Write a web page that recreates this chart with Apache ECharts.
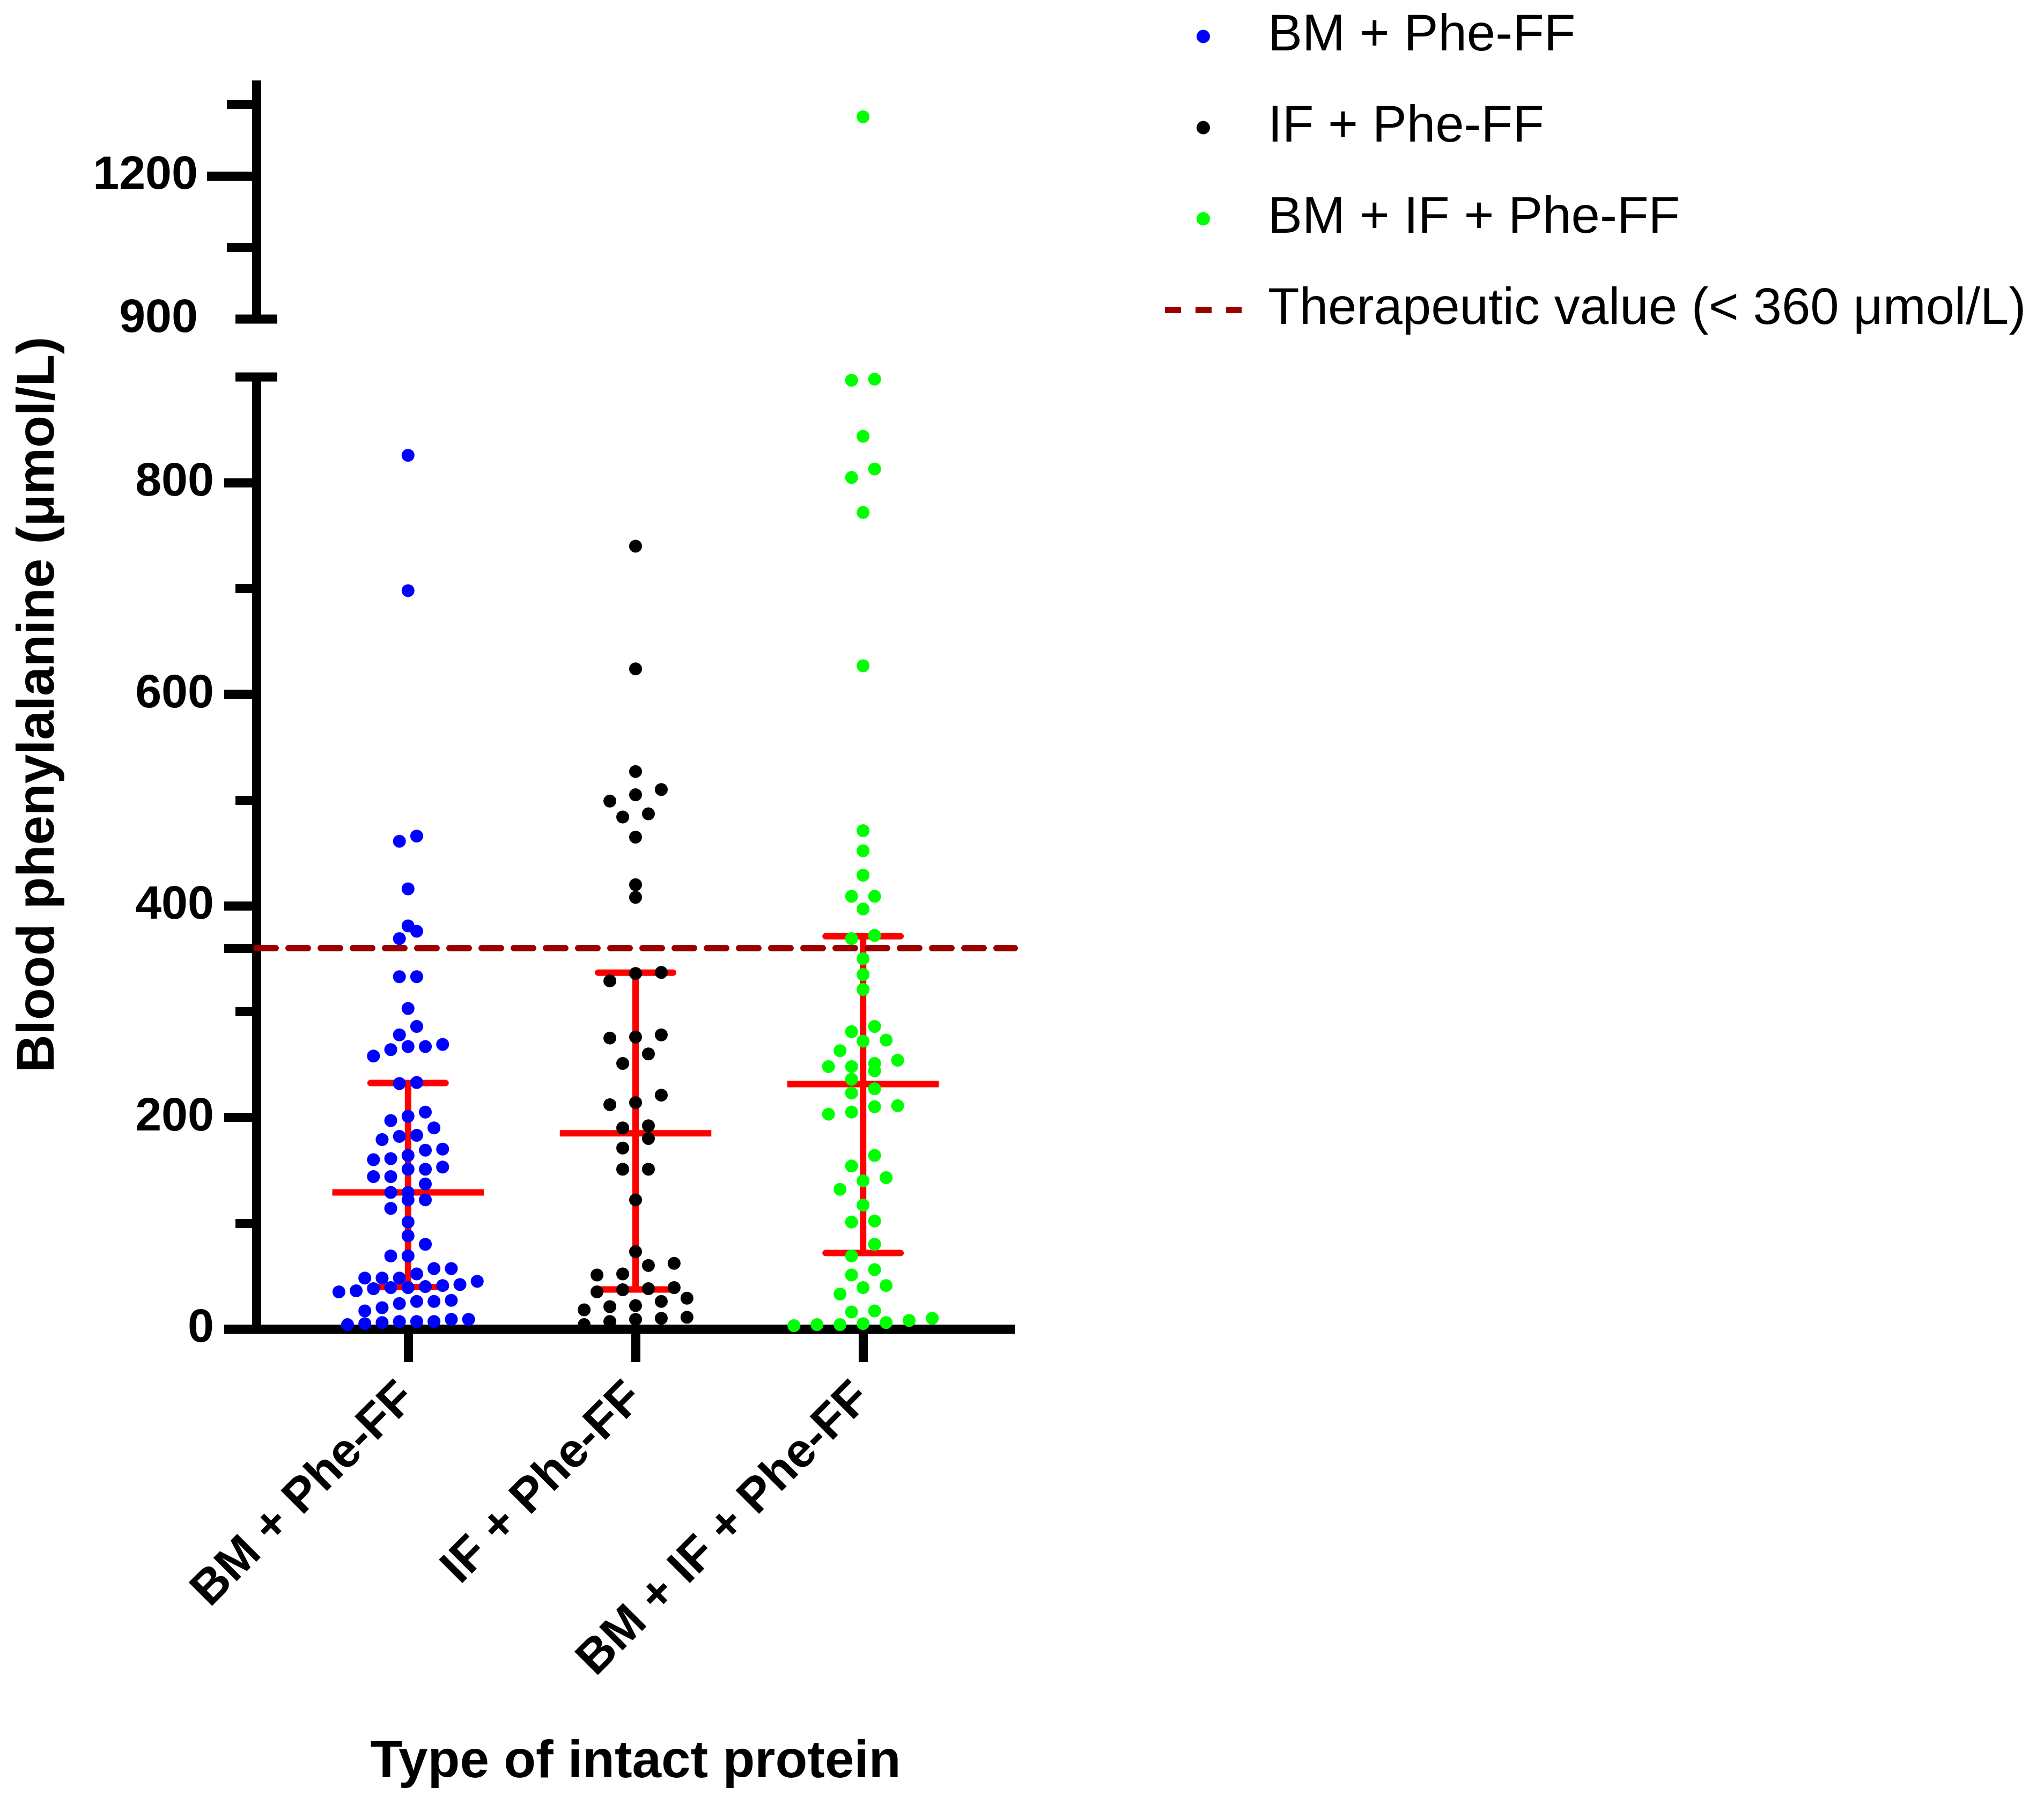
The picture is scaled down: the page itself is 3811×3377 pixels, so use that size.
<!DOCTYPE html>
<html><head><meta charset="utf-8">
<script src="https://cdn.jsdelivr.net/npm/echarts@6/dist/echarts.min.js"></script>
<style>html,body{margin:0;padding:0;background:#fff}#c{width:3811px;height:3377px}</style>
</head><body><div id="c"></div>
<script>
// ---------------- data ----------------
const categories = ['BM + Phe-FF', 'IF + Phe-FF', 'BM + IF + Phe-FF'];
const bmValues = [826, 698, 466, 461, 416, 381, 376, 369, 333, 333, 303, 286, 278, 269, 267, 267, 264, 258, 233, 232,
  205, 201, 197, 190, 183, 182, 179, 170, 169, 164, 161, 160, 153, 151, 151, 144, 144, 137, 129, 129,
  122, 122, 114, 101, 88, 80, 69, 69, 57, 57, 52, 48, 48, 48, 45, 42, 41, 40, 39, 39,
  38, 36, 35, 27, 26, 26, 24, 20, 17, 9, 9, 7, 7, 6, 7, 5, 4];
const ifValues = [740, 624, 527, 510, 505, 499, 487, 484, 465, 420, 408, 337, 336, 329, 278, 276, 275, 260, 251, 221,
  214, 212, 192, 190, 180, 171, 151, 151, 122, 73, 62, 60, 52, 51, 39, 38, 37, 35, 29, 26,
  22, 21, 18, 11, 10, 9, 7, 4];
const bmIfValues = [1324, 898, 897, 844, 813, 805, 772, 627, 471, 452, 429, 409, 409, 397, 372, 369, 350, 335, 321, 286,
  281, 273, 272, 263, 254, 251, 248, 248, 244, 236, 227, 223, 211, 210, 205, 203, 164, 154, 143, 140,
  132, 117, 102, 101, 80, 69, 56, 51, 41, 39, 33, 17, 16, 10, 8, 6, 5, 4, 4, 3];
const thresholdValue = 360;
const thresholdName = 'Therapeutic value (< 360 \u03bcmol/L)';
const yLabelsLow = [0, 200, 400, 600, 800];
const yMinorLow = [100, 300, 500, 700];
const yLabelsHigh = [900, 1200];
const yMajorHigh = [1200];
const yMinorHigh = [1050, 1350];
const breakValue = 900;
const yAxisTitle = 'Blood phenylalanine (\u03bcmol/L)';
const xAxisTitle = 'Type of intact protein';

// ---------------- styling / layout ----------------
const groups = [bmValues, ifValues, bmIfValues];
const colors = ['#0000FF', '#000000', '#00FF00'];
const XMIN = 1 / 3, XMAX = 11 / 3;
const FONT = "'Liberation Sans', Arial, sans-serif";
const AX_W = 17;

// GraphPad-style quartiles ((n+1)p method)
function quartiles(arr) {
  const s = [...arr].sort((a, b) => a - b), n = s.length;
  const q = p => {
    const pos = p * (n + 1);
    const lo = Math.min(Math.max(Math.floor(pos), 1), n), hi = Math.min(Math.max(Math.ceil(pos), 1), n);
    const f = pos - Math.floor(pos);
    return s[lo - 1] + (s[hi - 1] - s[lo - 1]) * f;
  };
  return { q1: q(0.25), med: q(0.5), q3: q(0.75) };
}
const stats = groups.map(quartiles);

// simple row-based beeswarm layout
function swarm(values, center) {
  const BIN = 12, MAX_HALF = 0.304, DEF = 0.113;
  const idx = values.map((v, i) => i).sort((a, b) => values[a] - values[b]);
  const rows = []; let cur = [], start = null;
  idx.forEach(i => {
    const v = values[i];
    if (start === null || v - start >= BIN) { if (cur.length) rows.push(cur); cur = [i]; start = v; }
    else cur.push(i);
  });
  if (cur.length) rows.push(cur);
  const maxN = Math.max(...rows.map(r => r.length));
  const sp = maxN > 1 ? Math.min(DEF, 2 * MAX_HALF / (maxN - 1)) : DEF;
  const xs = new Array(values.length);
  rows.forEach(r => {
    r.forEach((i, k) => { xs[i] = center + (k - (r.length - 1) / 2) * sp; });
  });
  return values.map((v, i) => [xs[i], v]);
}

const layouts = groups.map((g, i) => swarm(g, i + 1));

const series = [];
// red median + IQR
series.push({
  type: 'custom', xAxisIndex: 1, yAxisIndex: 1, z: 2, silent: true, clip: false,
  data: categories.map((c, i) => [i]),
  renderItem: function (params, api) {
    const i = api.value(0), x = i + 1, s = stats[i];
    const pm = api.coord([x, s.med]), p1 = api.coord([x, s.q1]), p3 = api.coord([x, s.q3]);
    const ml = api.coord([x - 0.333, s.med])[0], mr = api.coord([x + 0.333, s.med])[0];
    const cl = api.coord([x - 0.165, s.med])[0], cr = api.coord([x + 0.165, s.med])[0];
    const red = '#FF0000', w = 12;
    return { type: 'group', children: [
      { type: 'line', shape: { x1: p1[0], y1: p1[1], x2: p3[0], y2: p3[1] }, style: { stroke: red, lineWidth: w } },
      { type: 'line', shape: { x1: ml, y1: pm[1], x2: mr, y2: pm[1] }, style: { stroke: red, lineWidth: w } },
      { type: 'line', shape: { x1: cl, y1: p3[1], x2: cr, y2: p3[1] }, style: { stroke: red, lineWidth: w, lineCap: 'round' } },
      { type: 'line', shape: { x1: cl, y1: p1[1], x2: cr, y2: p1[1] }, style: { stroke: red, lineWidth: w, lineCap: 'round' } }
    ] };
  }
});
// dots
layouts.forEach((pts, i) => {
  const low = pts.filter(p => p[1] <= breakValue), high = pts.filter(p => p[1] > breakValue);
  series.push({ type: 'scatter', name: categories[i], xAxisIndex: 1, yAxisIndex: 1, z: 3,
    symbol: 'circle', symbolSize: 24, itemStyle: { color: colors[i], opacity: 1 }, data: low, clip: false });
  if (high.length) series.push({ type: 'scatter', name: categories[i], xAxisIndex: 0, yAxisIndex: 0, z: 3,
    symbol: 'circle', symbolSize: 24, itemStyle: { color: colors[i], opacity: 1 }, data: high, clip: false });
});
// axis break caps
[[0, 0], [1, 1]].forEach(([xi, yi]) => {
  series.push({ type: 'custom', xAxisIndex: xi, yAxisIndex: yi, z: 1, silent: true, clip: false,
    data: [[breakValue]],
    renderItem: function (params, api) {
      const p = api.coord([XMIN, api.value(0)]);
      return { type: 'line', shape: { x1: p[0] - 39, y1: p[1], x2: p[0] + 39, y2: p[1] },
        style: { stroke: '#000', lineWidth: AX_W } };
    } });
});
// therapeutic reference line
series.push({
  type: 'line', name: thresholdName, xAxisIndex: 1, yAxisIndex: 1, z: 4, data: [], symbol: 'none',
  itemStyle: { color: 'rgba(0,0,0,0)', borderColor: 'rgba(0,0,0,0)' },
  lineStyle: { color: '#990000', width: 12, type: [30, 27], cap: 'butt' },
  markLine: { silent: true, symbol: 'none', label: { show: false }, animation: false,
    lineStyle: { color: '#990000', width: 12, type: [36, 24], cap: 'round' },
    data: [{ yAxis: thresholdValue }] }
});

const hiddenX = gi => ({ gridIndex: gi, type: 'value', min: XMIN, max: XMAX, show: false });
const axisLineStyle = { show: true, onZero: false, lineStyle: { color: '#000', width: AX_W, cap: 'butt' } };
const tickLabel = { fontFamily: FONT, fontWeight: 'bold', fontSize: 88, color: '#000', formatter: v => String(v) };

const majorLow = [...yLabelsLow, thresholdValue].sort((a, b) => a - b);

const option = {
  animation: false,
  backgroundColor: '#ffffff',
  grid: [
    { left: 478, top: 150, width: 1414, height: 445, outerBoundsMode: 'none', containLabel: false },
    { left: 478, top: 703, width: 1414, height: 1775, outerBoundsMode: 'none', containLabel: false },
    { left: 478, top: 150, width: 1414, height: 445, outerBoundsMode: 'none', containLabel: false },
    { left: 478, top: 703, width: 1414, height: 1775, outerBoundsMode: 'none', containLabel: false }
  ],
  xAxis: [
    hiddenX(0),
    { gridIndex: 1, type: 'value', min: XMIN, max: XMAX, position: 'bottom',
      axisLine: axisLineStyle,
      axisTick: { show: true, customValues: [1, 2, 3], length: 62, lineStyle: { color: '#000', width: AX_W } },
      axisLabel: { show: true, customValues: [1, 2, 3], rotate: 45, margin: 116,
        formatter: v => categories[Math.round(v) - 1] || '',
        fontFamily: FONT, fontWeight: 'bold', fontSize: 90, color: '#000' },
      splitLine: { show: false } },
    hiddenX(2),
    hiddenX(3)
  ],
  yAxis: [
    { gridIndex: 0, type: 'value', min: breakValue, max: 1400, position: 'left',
      axisLine: axisLineStyle,
      axisTick: { show: true, customValues: yMajorHigh, length: 92, lineStyle: { color: '#000', width: AX_W } },
      axisLabel: Object.assign({ show: true, customValues: yLabelsHigh, margin: 109 }, tickLabel),
      splitLine: { show: false } },
    { gridIndex: 1, type: 'value', min: 0, max: breakValue, position: 'left',
      axisLine: axisLineStyle,
      axisTick: { show: true, customValues: majorLow, length: 60, lineStyle: { color: '#000', width: AX_W } },
      axisLabel: Object.assign({ show: true, customValues: yLabelsLow, margin: 79 }, tickLabel),
      splitLine: { show: false } },
    { gridIndex: 2, type: 'value', min: breakValue, max: 1400, position: 'left',
      axisLine: { show: false },
      axisTick: { show: true, customValues: yMinorHigh, length: 55, lineStyle: { color: '#000', width: AX_W } },
      axisLabel: { show: false }, splitLine: { show: false } },
    { gridIndex: 3, type: 'value', min: 0, max: breakValue, position: 'left',
      axisLine: { show: false },
      axisTick: { show: true, customValues: yMinorLow, length: 39, lineStyle: { color: '#000', width: AX_W } },
      axisLabel: { show: false }, splitLine: { show: false } }
  ],
  legend: {
    show: true, orient: 'vertical', left: 2161, top: 13,
    itemWidth: 143, itemHeight: 25, itemGap: 70,
    data: [
      { name: categories[0], icon: 'circle' },
      { name: categories[1], icon: 'circle' },
      { name: categories[2], icon: 'circle' },
      { name: thresholdName, itemStyle: { color: 'rgba(0,0,0,0)', borderColor: 'rgba(0,0,0,0)', borderWidth: 0 } }
    ],
    lineStyle: { width: 12, type: [30, 27], cap: 'butt', color: '#990000' },
    textStyle: { fontFamily: FONT, fontSize: 96, color: '#000', lineHeight: 100, padding: [0, 0, 0, 44] },
    selectedMode: false
  },
  graphic: [
    { type: 'text', x: 73, y: 1314, rotation: Math.PI / 2,
      style: { text: yAxisTitle, font: "bold 98px 'Liberation Sans', Arial, sans-serif", fill: '#000',
        textAlign: 'center', textVerticalAlign: 'middle' } },
    { type: 'text', x: 1185, y: 3287,
      style: { text: xAxisTitle, font: "bold 98px 'Liberation Sans', Arial, sans-serif", fill: '#000',
        textAlign: 'center', textVerticalAlign: 'middle' } }
  ],
  series: series
};

const chart = echarts.init(document.getElementById('c'), null, { renderer: 'canvas' });
chart.setOption(option);
</script>
</body></html>
